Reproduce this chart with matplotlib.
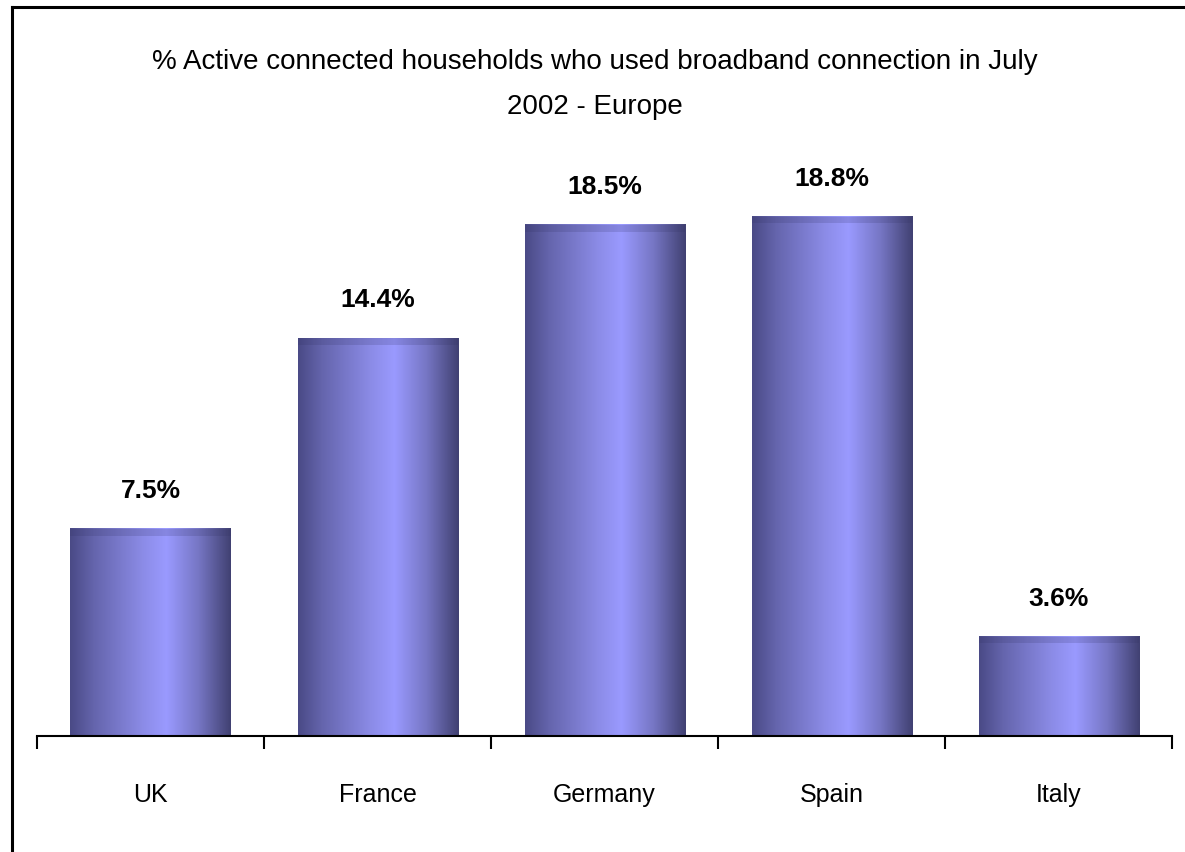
import numpy as np
import matplotlib.pyplot as plt
from matplotlib.colors import LinearSegmentedColormap
from matplotlib.patches import Rectangle
from matplotlib.lines import Line2D

countries = ['UK', 'France', 'Germany', 'Spain', 'Italy']
shares = [7.5, 14.4, 18.5, 18.8, 3.6]
value_labels = ['7.5%', '14.4%', '18.5%', '18.8%', '3.6%']
title = '% Active connected households who used broadband connection in July\n2002 - Europe'

plt.rcParams['font.family'] = ['Liberation Sans', 'DejaVu Sans']

fig = plt.figure(figsize=(11.85, 8.53), dpi=100)
ax = fig.add_axes([0.0312, 0.136, 0.958, 0.664])

# bar shading: dark edges, light middle (a bit right of centre)
bar_cmap = LinearSegmentedColormap.from_list(
    'barshade',
    [(0.0, '#4a4a86'), (0.15, '#6565ad'), (0.45, '#8b8be6'),
     (0.6, '#9a9aff'), (0.8, '#7676c4'), (1.0, '#414172')])
grad = np.linspace(0, 1, 256).reshape(1, -1)

width = 0.705
x = np.arange(len(countries))
for xi, h, lab in zip(x, shares, value_labels):
    ax.imshow(grad, cmap=bar_cmap, aspect='auto', interpolation='bilinear',
              extent=(xi - width / 2, xi + width / 2, 0, h), zorder=2)
    # slight dark band near the top of the bar
    ax.add_patch(Rectangle((xi - width / 2, h - 0.25), width, 0.25,
                           facecolor='#303060', alpha=0.18, lw=0, zorder=3))
    ax.annotate(lab, (xi, h), xytext=(0, 28), textcoords='offset points',
                ha='center', va='center', fontsize=19, fontweight='bold')

ax.set_xlim(-0.5, len(countries) - 0.5)
ax.set_ylim(0, 20.5)
ax.set_yticks([])
for s in ['top', 'right', 'left']:
    ax.spines[s].set_visible(False)
ax.spines['bottom'].set_linewidth(1.5)

ax.set_xticks(x)
ax.set_xticklabels(countries, fontsize=18)
ax.tick_params(axis='x', length=0, pad=33)
ax.set_xticks(np.arange(-0.5, len(countries)), minor=True)
ax.tick_params(axis='x', which='minor', length=9, width=1.5, direction='out')

fig.text(0.502, 0.901, title, ha='center', va='center', fontsize=20,
         linespacing=1.95)

# chart frame (right and bottom edges fall outside the picture)
fig.add_artist(Line2D([12 / 1185, 12 / 1185], [0, 1 - 8 / 853],
                      transform=fig.transFigure, color='black', lw=2.2))
fig.add_artist(Line2D([12 / 1185, 1], [1 - 8 / 853, 1 - 8 / 853],
                      transform=fig.transFigure, color='black', lw=2.2))

fig.savefig('out.png', dpi=100)
